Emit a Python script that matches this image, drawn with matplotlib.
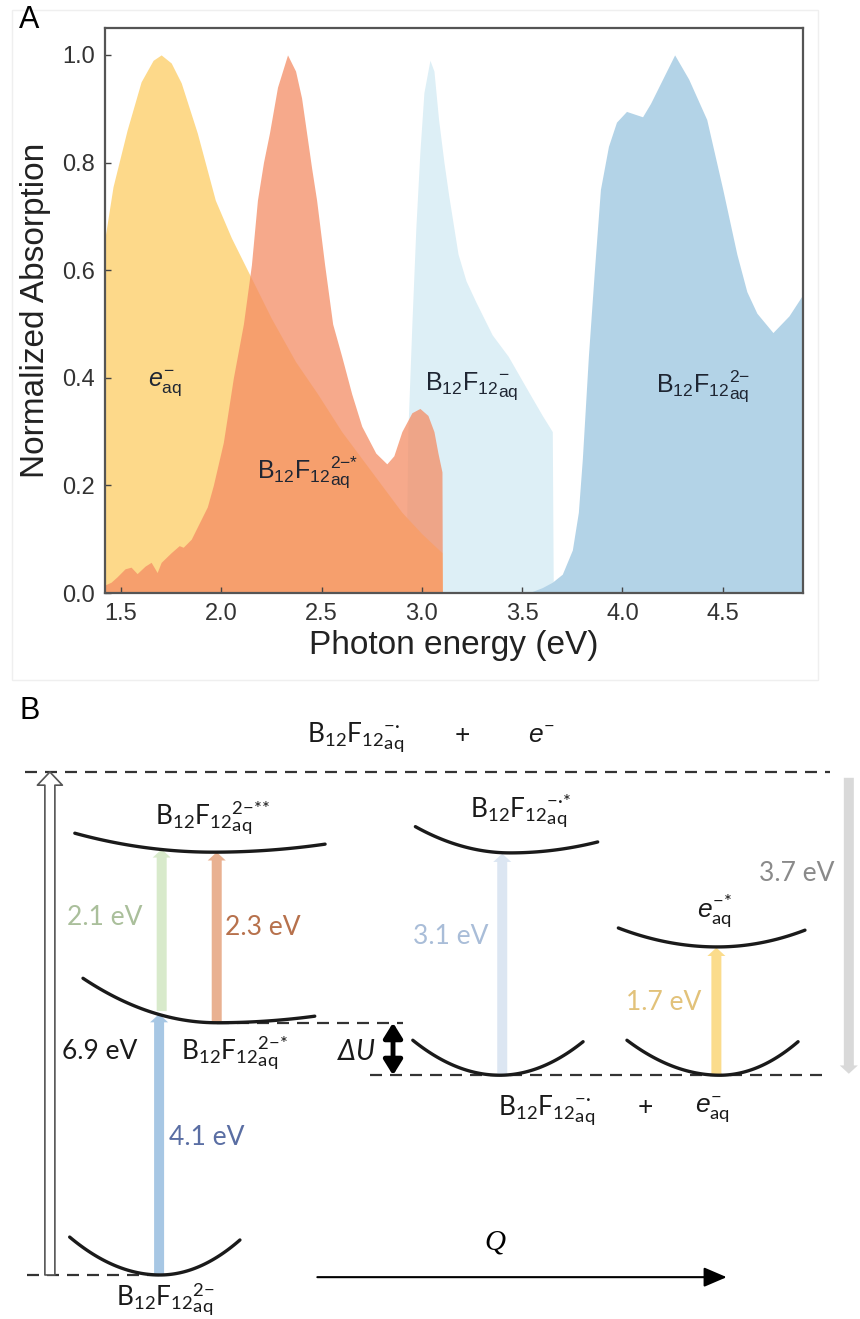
import numpy as np
import matplotlib

matplotlib.use("Agg")
from matplotlib import pyplot as plt  # noqa: E402
from matplotlib.patches import Rectangle  # noqa: E402

plt.rcParams["font.family"] = ["Liberation Sans", "DejaVu Sans"]
plt.rcParams["mathtext.fontset"] = "custom"
plt.rcParams["mathtext.default"] = "regular"
plt.rcParams["mathtext.rm"] = "Liberation Sans"
plt.rcParams["mathtext.it"] = "Liberation Sans:italic"

# ---- panel A: normalized absorption spectra ----
eaq_energy = [1.42, 1.46, 1.53, 1.60, 1.66, 1.70, 1.75, 1.80, 1.88, 1.97, 2.05,
              2.13, 2.25, 2.37, 2.48, 2.60, 2.70, 2.80, 2.90, 3.00, 3.10, 3.102]
eaq_abs = [0.66, 0.755, 0.86, 0.95, 0.99, 1.00, 0.985, 0.948, 0.855, 0.73, 0.66,
           0.60, 0.51, 0.43, 0.37, 0.30, 0.25, 0.20, 0.15, 0.11, 0.075, 0.0]

exc_energy = [1.42, 1.45, 1.48, 1.52, 1.55, 1.58, 1.62, 1.65, 1.68, 1.70, 1.75,
              1.79, 1.81, 1.85, 1.89, 1.93, 1.96, 2.01, 2.06, 2.11, 2.15, 2.18,
              2.21, 2.24, 2.28, 2.33, 2.37, 2.40, 2.425, 2.45, 2.475, 2.515,
              2.555, 2.60, 2.65, 2.70, 2.77, 2.825, 2.86, 2.90, 2.95, 2.99,
              3.03, 3.06, 3.08, 3.10, 3.102]
exc_abs = [0.015, 0.02, 0.03, 0.045, 0.048, 0.036, 0.05, 0.057, 0.038, 0.057, 0.075,
           0.088, 0.085, 0.10, 0.13, 0.16, 0.20, 0.28, 0.40, 0.50, 0.61, 0.73,
           0.80, 0.855, 0.94, 1.0, 0.97, 0.92, 0.855, 0.79, 0.73, 0.61,
           0.50, 0.44, 0.37, 0.31, 0.26, 0.24, 0.255, 0.30, 0.335, 0.343,
           0.33, 0.30, 0.26, 0.225, 0.0]

anion_energy = [2.92, 2.93, 2.95, 2.97, 2.99, 3.01, 3.04, 3.06, 3.083, 3.11, 3.133,
                3.18, 3.22, 3.27, 3.35, 3.43, 3.53, 3.60, 3.65, 3.655]
anion_abs = [0.0, 0.30, 0.50, 0.68, 0.82, 0.93, 0.99, 0.97, 0.88, 0.80, 0.74,
             0.63, 0.58, 0.54, 0.48, 0.44, 0.375, 0.33, 0.30, 0.0]

dianion_energy = [3.53, 3.60, 3.65, 3.70, 3.75, 3.78, 3.80, 3.83, 3.86, 3.89, 3.93,
                  3.97, 4.02, 4.06, 4.10, 4.14, 4.20, 4.26, 4.33, 4.42, 4.50,
                  4.57, 4.62, 4.67, 4.75, 4.83, 4.90]
dianion_abs = [0.0, 0.01, 0.02, 0.035, 0.08, 0.15, 0.25, 0.44, 0.60, 0.75, 0.83,
               0.875, 0.895, 0.89, 0.885, 0.91, 0.955, 1.0, 0.955, 0.88, 0.75,
               0.63, 0.56, 0.52, 0.484, 0.515, 0.555]

x_ticks = [1.5, 2.0, 2.5, 3.0, 3.5, 4.0, 4.5]
y_ticks = [0.0, 0.2, 0.4, 0.6, 0.8, 1.0]

# ---- panel B: schematic energy levels (Q in arb. units, energy in diagram units) ----
# ground, 2-*, 2-**, anion, anion*, e_aq, e_aq*
well_q0 = [1.86, 2.52, 2.48, 5.81, 5.93, 8.37, 8.34]
well_e0 = [0.0, 3.46, 5.80, 2.74, 5.79, 2.74, 4.50]
well_qleft = [0.81, 0.965, 0.87, 4.80, 4.83, 7.29, 7.19]
well_eleft = [0.52, 4.07, 6.06, 3.22, 6.15, 3.22, 4.76]
well_qright = [2.79, 3.66, 3.78, 6.78, 6.95, 9.28, 9.36]
well_eright = [0.48, 3.55, 5.91, 3.20, 5.94, 3.20, 4.73]

dash_level = [6.90, 3.46, 2.74, 0.0]
dash_qstart = [0.29, 2.52, 4.30, 0.31]
dash_qend = [9.65, 4.69, 9.65, 1.94]

trans_q = [1.85, 1.88, 2.52, 5.84, 8.33, 9.87]
trans_from = [0.0, 3.62, 3.47, 2.75, 2.75, 6.82]
trans_to = [3.58, 5.84, 5.80, 5.78, 4.49, 2.76]
trans_color = ["#a7c7e4", "#d8eacb", "#e9b191", "#dce6f2", "#fbdc8c", "#d9d9d9"]
trans_label = ["4.1 eV", "2.1 eV", "2.3 eV", "3.1 eV", "1.7 eV", "3.7 eV"]
trans_label_q = [2.40, 1.22, 3.06, 5.24, 7.72, 9.26]
trans_label_e = [1.89, 4.91, 4.77, 4.64, 3.74, 5.51]
trans_label_color = ["#5a6ea3", "#aabf9b", "#b7714c", "#a9bdd8", "#e2c27a", "#8a8a8a"]

ion_q, ion_top, ion_bottom = 0.58, 6.90, 0.0
delta_q, delta_top, delta_bottom = 4.57, 3.46, 2.74
q_axis_start, q_axis_end, q_axis_e = 3.69, 8.45, -0.03

B2 = r"B$_{12}$F$_{12}$"
state_text = [
    (B2 + r"$^{{-}{·}}_{aq}$", 4.14, 7.38),
    ("+", 5.37, 7.40),
    (r"$\mathit{e}^{-}$", 6.30, 7.40),
    (B2 + r"$^{2{-}{*}{*}}_{aq}$", 2.47, 6.28),
    (B2 + r"$^{{-}{·}{*}}_{aq}$", 6.05, 6.38),
    (r"$\mathit{e}^{{-}{*}}_{aq}$", 8.31, 5.00),
    (B2 + r"$^{2{-}{*}}_{aq}$", 2.73, 3.06),
    ("6.9 eV", 1.16, 3.06),
    (B2 + r"$^{{-}{·}}_{aq}$", 6.36, 2.26),
    ("+", 7.50, 2.30),
    (r"$\mathit{e}^{-}_{aq}$", 8.28, 2.26),
    (B2 + r"$^{2{-}}_{aq}$", 1.92, -0.34),
]

fig = plt.figure(figsize=(8.6, 13.19), dpi=100)

# faint frame around panel A
fig.patches.append(Rectangle((12 / 860, 1 - 680 / 1319), 806 / 860, 670 / 1319,
                             transform=fig.transFigure, fill=False,
                             ec="#efefef", lw=1.0))

ax = fig.add_axes([105 / 860, 1 - 593 / 1319, 698 / 860, 565 / 1319])
ax.fill_between(anion_energy, anion_abs, color="#ddeff6", lw=0)
ax.fill_between(dianion_energy, dianion_abs, color="#b3d3e7", lw=0)
ax.fill_between(eaq_energy, eaq_abs, color="#fdd98a", lw=0)
ax.fill_between(exc_energy, exc_abs, color="#f48c64", alpha=0.75, lw=0)
ax.set_xlim(1.42, 4.9)
ax.set_ylim(0, 1.05)
ax.set_xticks(x_ticks)
ax.set_yticks(y_ticks)
ax.set_xticklabels([f"{t:.1f}" for t in x_ticks])
ax.set_yticklabels([f"{t:.1f}" for t in y_ticks])
ax.tick_params(direction="in", length=4, width=1, color="#444",
               labelsize=17, labelcolor="#333", pad=7)
for spine in ax.spines.values():
    spine.set_color("#555")
    spine.set_linewidth(1.6)
ax.set_xlabel("Photon energy (eV)", fontsize=24, color="#222", labelpad=4)
ax.set_ylabel("Normalized Absorption", fontsize=24, color="#222", labelpad=8)

txt = dict(fontsize=18, color="#1f2633", ha="center", va="center")
ax.text(1.72, 0.39, r"$\mathit{e}^{-}_{aq}$", **txt)
ax.text(2.43, 0.225, B2 + r"$^{2{-}{*}}_{aq}$", **txt)
ax.text(3.25, 0.385, B2 + r"$^{-}_{aq}$", **txt)
ax.text(4.40, 0.385, B2 + r"$^{2{-}}_{aq}$", **txt)

fig.text(29 / 860, 1 - 20 / 1319, "A", fontsize=22, ha="center", va="center")

# ---- panel B ----
bx = fig.add_axes([0, 0, 1, 659 / 1319])
bx.set_xlim(0, 10)
bx.set_ylim(-0.604, 8.436)
bx.axis("off")

for lvl, q1, q2 in zip(dash_level, dash_qstart, dash_qend):
    bx.plot([q1, q2], [lvl, lvl], color="#333", lw=1.6, ls=(0, (5.4, 3.6)),
            zorder=1)

for q0, e0, ql, el, qr, er in zip(well_q0, well_e0, well_qleft, well_eleft,
                                  well_qright, well_eright):
    qa = np.linspace(ql, q0, 40)
    qb = np.linspace(q0, qr, 40)
    ea = e0 + (el - e0) * ((qa - q0) / (ql - q0)) ** 2
    eb = e0 + (er - e0) * ((qb - q0) / (qr - q0)) ** 2
    bx.plot(np.r_[qa, qb], np.r_[ea, eb], color="#1a1a1a", lw=2.4, zorder=4,
            solid_capstyle="round")

for q, e1, e2, c in zip(trans_q, trans_from, trans_to, trans_color):
    bx.annotate("", xy=(q, e2), xytext=(q, e1),
                arrowprops=dict(arrowstyle="simple,head_length=0.6,head_width=1.3,"
                                "tail_width=0.72", mutation_scale=10,
                                fc=c, ec="none", shrinkA=0, shrinkB=0), zorder=3)

for s, q, e, c in zip(trans_label, trans_label_q, trans_label_e, trans_label_color):
    bx.text(q, e, s, fontsize=19, color=c, ha="center", va="center",
            family=["Lato", "DejaVu Sans"])

# ionisation arrow (hollow)
bx.annotate("", xy=(ion_q, ion_top), xytext=(ion_q, ion_bottom),
            arrowprops=dict(arrowstyle="simple,head_length=0.95,head_width=1.8,"
                            "tail_width=0.72", mutation_scale=10,
                            fc="white", ec="#555", lw=1.2, shrinkA=0, shrinkB=0))

# Delta U
bx.annotate("", xy=(delta_q, delta_top), xytext=(delta_q, delta_bottom),
            arrowprops=dict(arrowstyle="<|-|>,head_length=0.45,head_width=0.28",
                            mutation_scale=20, lw=3.5, color="black",
                            shrinkA=0, shrinkB=0))
bx.text(4.15, 3.06, r"$\Delta U$", fontsize=20, ha="center", va="center",
        style="italic", family=["Lato", "DejaVu Sans"], color="#1a1a1a")

# Q axis
bx.annotate("", xy=(q_axis_end, q_axis_e), xytext=(q_axis_start, q_axis_e),
            arrowprops=dict(arrowstyle="-|>,head_length=0.7,head_width=0.3",
                            mutation_scale=20, lw=1.5, color="black",
                            shrinkA=0, shrinkB=0))
bx.text(5.76, 0.44, "Q", fontsize=21, style="italic", family="Liberation Serif",
        ha="center", va="center")

for s, q, e in state_text:
    bx.text(q, e, s, fontsize=19, ha="center", va="center", color="#1a1a1a",
            family=["Lato", "DejaVu Sans"])

bx.text(0.34, 7.74, "B", fontsize=22, ha="center", va="center")

fig.savefig("out.png", dpi=100)
